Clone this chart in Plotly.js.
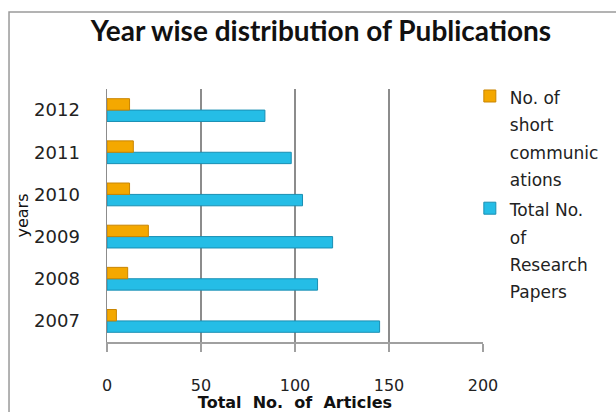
<!DOCTYPE html>
<html>
<head>
<meta charset="utf-8">
<script src="https://cdn.plot.ly/plotly-3.0.1.min.js"></script>
<style>
html,body{margin:0;padding:0;background:#fff;}
#chart{width:616px;height:412px;}
</style>
</head>
<body>
<div id="chart"></div>
<script>
var years = ['2007', '2008', '2009', '2010', '2011', '2012'];
var shortComms = [5, 11, 22, 12, 14, 12];
var researchPapers = [145, 112, 120, 104, 98, 84];
var xTicks = [0, 50, 100, 150, 200];

function lines(arr) {
  return arr.map(function (s) { return '<span style="font-size:17px">' + s + '</span>'; }).join('<br>');
}

var traces = [
  {
    type: 'bar', orientation: 'h', name: lines(['Total No.', 'of', 'Research', 'Papers']),
    y: years, x: researchPapers,
    marker: {color: '#25BDE6', line: {color: '#1A8FB3', width: 1}}
  },
  {
    type: 'bar', orientation: 'h', name: lines(['No. of', 'short', 'communic', 'ations']),
    y: years, x: shortComms,
    marker: {color: '#F4A800', line: {color: '#C98500', width: 1}}
  }
];

var layout = {
  width: 616, height: 412,
  margin: {l: 107, r: 133, t: 89, b: 70, pad: 0},
  paper_bgcolor: '#fff', plot_bgcolor: '#fff',
  barmode: 'group', bargap: 0.46, bargroupgap: 0,
  showlegend: true,
  font: {family: 'DejaVu Sans, Verdana, sans-serif', color: '#222'},
  title: {
    text: '<b>Year wise distribution of Publications</b>',
    font: {family: 'Lato, sans-serif', size: 28, color: '#111'},
    x: 0.569, xanchor: 'center', xref: 'paper', y: 0.925, yanchor: 'middle'
  },
  xaxis: {
    range: [0, 200], tickvals: xTicks, ticktext: xTicks.map(String),
    showgrid: true, gridcolor: '#8c8c8c', gridwidth: 1.2,
    zeroline: false, showline: true, linecolor: '#a0a0a0', linewidth: 1.5,
    ticks: 'outside', ticklen: 8, tickcolor: '#a0a0a0', tickwidth: 1.5,
    ticklabelstandoff: 20,
    tickfont: {family: 'DejaVu Sans, sans-serif', size: 16, color: '#222'},
    title: {text: '<b>Total  No.  of  Articles</b>', standoff: 1,
      font: {family: 'DejaVu Sans, sans-serif', size: 16, color: '#111'}},
    fixedrange: true
  },
  yaxis: {
    type: 'category', categoryorder: 'array', categoryarray: years,
    showgrid: false, zeroline: false, showline: true, linecolor: '#8c8c8c', linewidth: 1.5,
    ticks: '', ticklabelstandoff: 22,
    tickfont: {family: 'DejaVu Sans, sans-serif', size: 18, color: '#222'},
    title: {text: 'years', font: {family: 'DejaVu Sans, sans-serif', size: 16, color: '#111'}},
    fixedrange: true
  },
  legend: {
    x: 0.965, xanchor: 'left', y: 1.052, yanchor: 'top',
    traceorder: 'reversed', valign: 'top', maxheight: 400,
    font: {family: 'DejaVu Sans, sans-serif', size: 21, color: '#222'},
    bgcolor: 'rgba(0,0,0,0)', borderwidth: 0, itemwidth: 30, tracegroupgap: 0
  },
  shapes: [{
    type: 'rect', xref: 'paper', yref: 'paper',
    x0: -0.2606, x1: 1.4, y0: -0.35, y1: 1.3043,
    line: {color: '#9a9a9a', width: 1.5}, fillcolor: 'rgba(0,0,0,0)', layer: 'below'
  }]
};

Plotly.newPlot('chart', traces, layout, {displayModeBar: false, staticPlot: true});
</script>
</body>
</html>
